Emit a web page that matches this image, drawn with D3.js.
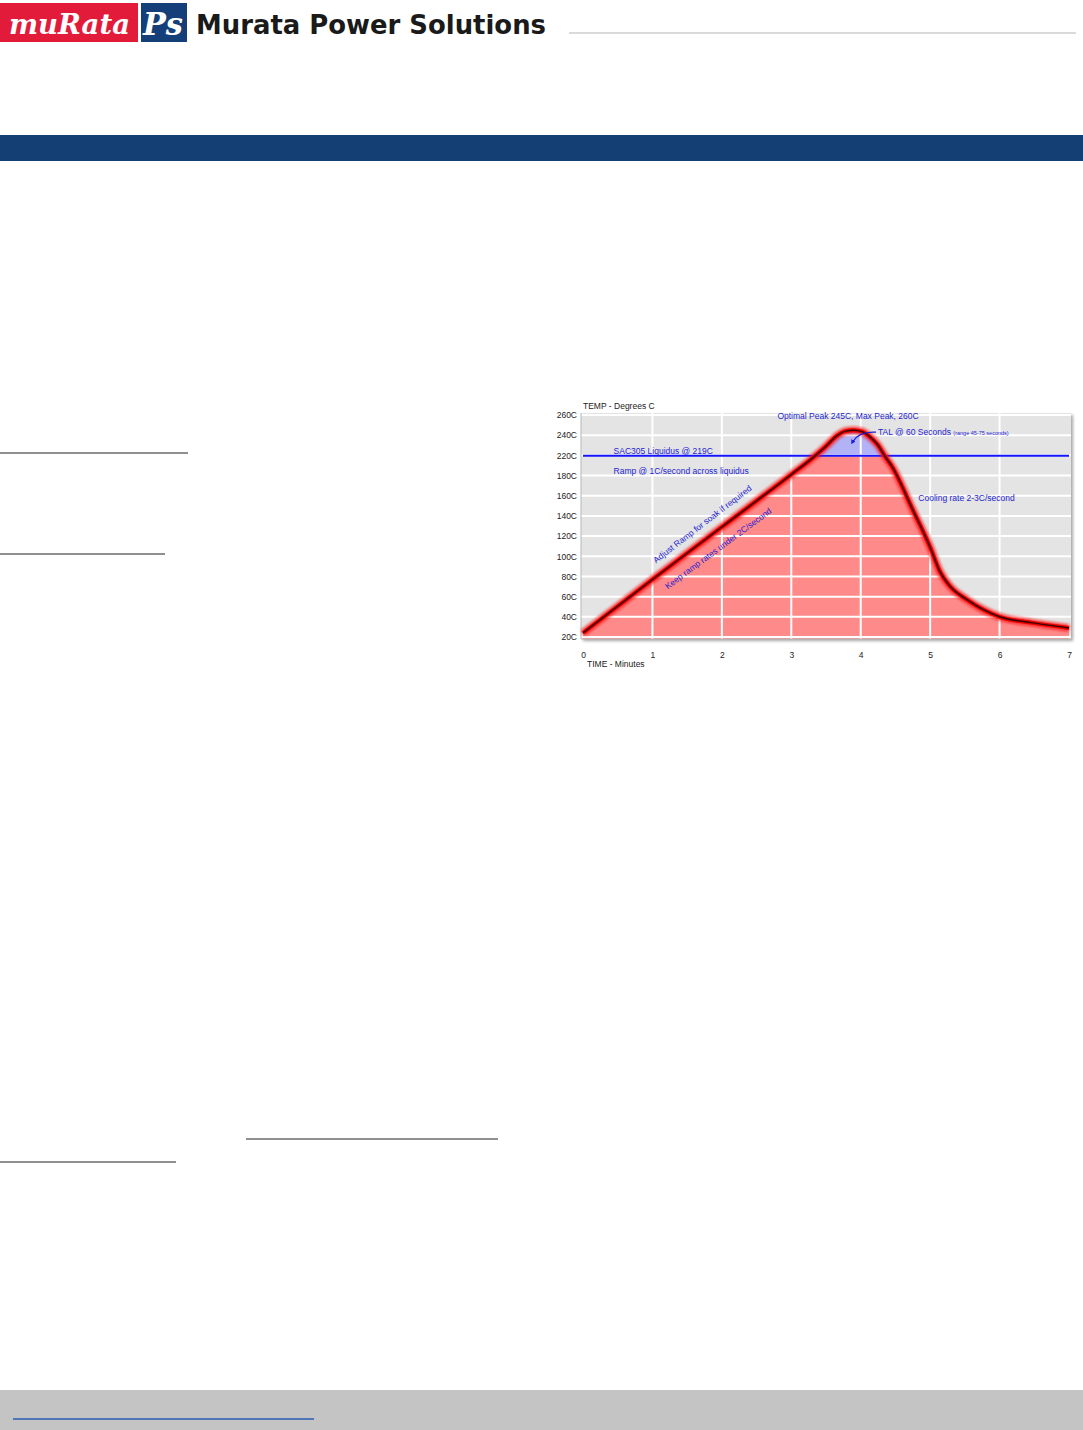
<!DOCTYPE html>
<html>
<head>
<meta charset="utf-8">
<script src="https://cdn.jsdelivr.net/npm/d3@7"></script>
<style>
  body { margin: 0; background: #fff; }
  svg { display: block; font-family: "Liberation Sans", Arial, sans-serif; }
</style>
</head>
<body>
<div id="page"></div>
<script>
// reflow profile
const timeTicks = [0, 1, 2, 3, 4, 5, 6, 7];
const tempTicks = [20, 40, 60, 80, 100, 120, 140, 160, 180, 220, 240, 260];
const profileTime = [0, 1, 2, 3, 3.3, 3.5, 3.65, 3.78, 3.9, 4.02, 4.13, 4.25, 4.35, 4.45, 4.75, 5.0, 5.14, 5.29, 5.53, 6.0, 6.48, 7];
const profileTemp = [24, 77, 129, 182, 214, 229, 239, 244, 245, 243.5, 238.5, 230, 218, 198, 146, 109, 85, 70, 57, 40, 34, 29];
const liquidus = 219;

const W = 1083, H = 1430;
const svg = d3.select("#page").append("svg").attr("width", W).attr("height", H);
const defs = svg.append("defs");

// ---- page furniture ----
svg.append("rect").attr("x", 0).attr("y", 3).attr("width", 138).attr("height", 39).attr("fill", "#e31b3b");
svg.append("text").attr("x", 9).attr("y", 34).attr("fill", "#fff")
  .attr("font-family", "DejaVu Serif").attr("font-style", "italic").attr("font-weight", "bold")
  .attr("font-size", 28).attr("textLength", 121).attr("lengthAdjust", "spacingAndGlyphs").text("muRata");
svg.append("rect").attr("x", 141).attr("y", 3).attr("width", 46).attr("height", 39).attr("fill", "#143f78");
svg.append("text").attr("x", 143).attr("y", 35).attr("fill", "#fff")
  .attr("font-family", "DejaVu Serif").attr("font-style", "italic").attr("font-weight", "bold")
  .attr("font-size", 32).attr("textLength", 40).attr("lengthAdjust", "spacingAndGlyphs").text("Ps");
svg.append("text").attr("x", 196).attr("y", 34).attr("fill", "#1a1a1a")
  .attr("font-family", "DejaVu Sans").attr("font-weight", "bold")
  .attr("font-size", 27).attr("textLength", 350).attr("lengthAdjust", "spacingAndGlyphs").text("Murata Power Solutions");
svg.append("line").attr("x1", 569).attr("x2", 1076).attr("y1", 33).attr("y2", 33).attr("stroke", "#b5b5b5");

svg.append("rect").attr("x", 0).attr("y", 135).attr("width", W).attr("height", 26).attr("fill", "#133f74");

const rules = [[0, 188, 453], [0, 165, 554], [246, 498, 1139], [0, 176, 1162]];
rules.forEach(r => svg.append("line").attr("x1", r[0]).attr("x2", r[1]).attr("y1", r[2]).attr("y2", r[2])
  .attr("stroke", "#222").attr("stroke-width", 1.2));

svg.append("rect").attr("x", 0).attr("y", 1390).attr("width", W).attr("height", 40).attr("fill", "#c4c4c4");
svg.append("line").attr("x1", 13).attr("x2", 314).attr("y1", 1419).attr("y2", 1419).attr("stroke", "#2b5db2").attr("stroke-width", 1.3);

// ---- chart ----
const pL = 583, pR = 1069, pT = 415, pB = 637;
const step = (pB - pT) / (tempTicks.length - 1);
const x = d3.scaleLinear().domain([0, 7]).range([pL, pR]);
// the source axis skips 200C, so ticks are evenly spaced by index
const y = d3.scaleLinear().domain(tempTicks).range(tempTicks.map((d, i) => pB - i * step));

const profile = profileTime.map((t, i) => ({ t, v: profileTemp[i] }));

const shadow = defs.append("filter").attr("id", "shadow").attr("x", "-5%").attr("y", "-5%").attr("width", "110%").attr("height", "115%");
shadow.append("feDropShadow").attr("dx", 2).attr("dy", 2).attr("stdDeviation", 1.5).attr("flood-color", "#000").attr("flood-opacity", 0.35);
const glow = defs.append("filter").attr("id", "glow").attr("x", "-10%").attr("y", "-10%").attr("width", "120%").attr("height", "120%");
glow.append("feGaussianBlur").attr("stdDeviation", 1.8);

const g = svg.append("g");
g.append("rect").attr("x", pL - 2).attr("y", pT - 2).attr("width", pR - pL + 4).attr("height", pB - pT + 4)
  .attr("fill", "#e4e4e4").attr("filter", "url(#shadow)");

const yLiq = y(liquidus);
defs.append("clipPath").attr("id", "below").append("rect")
  .attr("x", pL).attr("y", yLiq).attr("width", pR - pL).attr("height", pB + 2 - yLiq);
defs.append("clipPath").attr("id", "above").append("rect")
  .attr("x", pL).attr("y", pT - 2).attr("width", pR - pL).attr("height", yLiq - pT + 2);

const area = d3.area().curve(d3.curveMonotoneX).x(d => x(d.t)).y0(pB + 2).y1(d => y(d.v));
g.append("path").datum(profile).attr("d", area).attr("fill", "#ff8a8a").attr("clip-path", "url(#below)");
g.append("path").datum(profile).attr("d", area).attr("fill", "#b2b2f6").attr("clip-path", "url(#above)");

// grid
g.append("g").selectAll("line").data(tempTicks).join("line")
  .attr("x1", pL - 2).attr("x2", pR + 2).attr("y1", d => y(d)).attr("y2", d => y(d))
  .attr("stroke", "#fff").attr("stroke-width", 2);
g.append("g").selectAll("line").data(timeTicks.slice(1, -1)).join("line")
  .attr("x1", d => x(d)).attr("x2", d => x(d)).attr("y1", pT - 2).attr("y2", pB + 2)
  .attr("stroke", "#fff").attr("stroke-width", 2);
g.append("path").attr("d", `M${pL - 2},${pT - 2}V${pB + 2}H${pR + 2}`)
  .attr("fill", "none").attr("stroke", "#b8b8b8").attr("stroke-width", 1);

// liquidus
g.append("line").attr("x1", pL).attr("x2", pR).attr("y1", yLiq).attr("y2", yLiq)
  .attr("stroke", "#1414ff").attr("stroke-width", 2);

// profile curve
const line = d3.line().curve(d3.curveMonotoneX).x(d => x(d.t)).y(d => y(d.v));
g.append("path").datum(profile).attr("d", line).attr("fill", "none")
  .attr("stroke", "#ff1010").attr("stroke-width", 7).attr("filter", "url(#glow)").attr("opacity", 0.85);
g.append("path").datum(profile).attr("d", line).attr("fill", "none")
  .attr("stroke", "#e80000").attr("stroke-width", 4);
g.append("path").datum(profile).attr("d", line).attr("fill", "none")
  .attr("stroke", "#3a0000").attr("stroke-width", 1.5);

// axes
const yAxis = d3.axisLeft(y).tickValues(tempTicks).tickSize(0).tickPadding(6).tickFormat(d => d + "C");
const xAxis = d3.axisBottom(x).tickValues(timeTicks).tickSize(0).tickPadding(15).tickFormat(d3.format("d"));
const ya = svg.append("g").attr("transform", `translate(${pL},0)`).call(yAxis);
const xa = svg.append("g").attr("transform", `translate(0,${pB})`).call(xAxis);
[ya, xa].forEach(a => {
  a.select(".domain").remove();
  a.selectAll("text").attr("font-size", 8.5).attr("fill", "#222").attr("font-family", "Liberation Sans, Arial");
});

svg.append("text").attr("x", 583).attr("y", 409).attr("font-size", 8.5).attr("fill", "#222").text("TEMP - Degrees C");
svg.append("text").attr("x", 587).attr("y", 667).attr("font-size", 8.5).attr("fill", "#222").text("TIME - Minutes");

// annotations
const blue = "#1e1ed2";
const note = (t, v, s, dy) => svg.append("text").attr("x", x(t)).attr("y", y(v) + (dy || 0))
  .attr("font-size", 8.5).attr("fill", blue).text(s);

note(2.8, 255, "Optimal Peak 245C, Max Peak, 260C", -1);
const tal = note(4.25, 240, "TAL @ 60 Seconds ");
tal.append("tspan").attr("font-size", 5.5).text("(range 45-75 seconds)");
note(0.44, 222, "SAC305 Liquidus @ 219C", 0.5);
note(0.44, 185, "Ramp @ 1C/second across liquidus", 1);
note(4.83, 157, "Cooling rate 2-3C/second", 2);

svg.append("text").attr("transform", `translate(${x(1.05)},${y(85) - 8}) rotate(-37.5)`)
  .attr("font-size", 8.5).attr("fill", blue).text("Adjust Ramp for soak if required");
svg.append("text").attr("transform", `translate(${x(1.22)},${y(73) + 6}) rotate(-36.5)`)
  .attr("font-size", 8.5).attr("fill", blue).text("Keep ramp rates under 2C/second");

// TAL pointer
defs.append("marker").attr("id", "arrow").attr("viewBox", "0 0 6 6").attr("refX", 3).attr("refY", 3)
  .attr("markerWidth", 4).attr("markerHeight", 4).attr("orient", "auto")
  .append("path").attr("d", "M0,0L6,3L0,6Z").attr("fill", blue);
const p0 = [x(4.22), y(243)], p1 = [x(3.88), y(233)];
svg.append("path")
  .attr("d", `M${p0[0]},${p0[1]}Q${p1[0] + 6},${p0[1] - 1} ${p1[0]},${p1[1]}`)
  .attr("fill", "none").attr("stroke", blue).attr("stroke-width", 1.2).attr("marker-end", "url(#arrow)");
</script>
</body>
</html>
